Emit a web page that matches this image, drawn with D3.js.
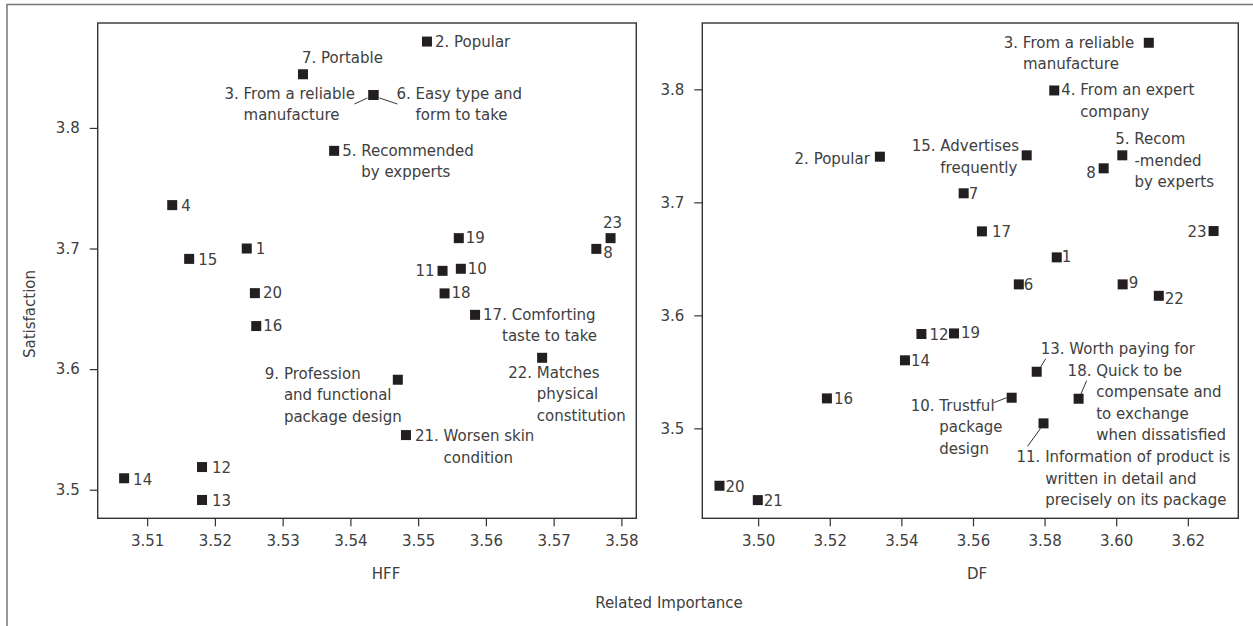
<!DOCTYPE html>
<html>
<head>
<meta charset="utf-8">
<script src="https://cdn.jsdelivr.net/npm/d3@7"></script>
<style>
  html, body { margin: 0; padding: 0; background: #fff; }
  svg { display: block; font-family: "DejaVu Sans", "Noto Sans", sans-serif; }
  .tick text { fill: #404040; font-size: 15px; font-family: "DejaVu Sans", "Noto Sans", sans-serif; }
  .tick line { stroke: #333; stroke-width: 1.2; }
  .lbl { fill: #404040; font-size: 15px; }
  .axis-title { fill: #404040; font-size: 15px; }
</style>
</head>
<body>
<svg id="chart" width="1253" height="626"></svg>
<script>
// item numbers (1..23)
const itemIds = [1, 2, 3, 4, 5, 6, 7, 8, 9, 10, 11, 12, 13, 14, 15, 16, 17, 18, 19, 20, 21, 22, 23];

// HFF panel : related importance / satisfaction
const hffImportance = [3.5247, 3.5513, 3.5434, 3.5137, 3.5376, 3.5434, 3.5330, 3.5763, 3.5470, 3.5563, 3.5536, 3.5181,
                       3.5181, 3.5066, 3.5162, 3.5261, 3.5584, 3.5539, 3.5560, 3.5259, 3.5482, 3.5683, 3.5784];
const hffSatisfaction = [3.700, 3.8716, 3.8273, 3.736, 3.781, 3.8273, 3.8445, 3.6997, 3.5912, 3.6832, 3.6815, 3.5188,
                         3.4915, 3.5095, 3.6914, 3.6357, 3.645, 3.6628, 3.7086, 3.663, 3.5453, 3.6094, 3.7086];

// DF panel
const dfImportance = [3.5834, 3.5340, 3.6091, 3.5827, 3.6017, 3.5728, 3.5574, 3.5965, 3.6018, 3.5708, 3.5797, 3.5456,
                      3.5778, 3.5410, 3.5750, 3.5192, 3.5625, 3.5895, 3.5547, 3.4892, 3.4999, 3.6119, 3.6272];
const dfSatisfaction = [3.6513, 3.7404, 3.8412, 3.799, 3.7416, 3.6274, 3.708, 3.7301, 3.6274, 3.5271, 3.5044, 3.5835,
                        3.5501, 3.5602, 3.7416, 3.5265, 3.6743, 3.5262, 3.584, 3.4492, 3.4365, 3.6173, 3.6746];

// tick labels
const hffXTicks = [3.51, 3.52, 3.53, 3.54, 3.55, 3.56, 3.57, 3.58];
const dfXTicks = [3.50, 3.52, 3.54, 3.56, 3.58, 3.60, 3.62];
const satTicks = [3.5, 3.6, 3.7, 3.8];

// label texts per panel
const hffLabelText = {
  1: ["1"], 2: ["2. Popular"], 3: ["3. From a reliable", "manufacture"], 4: ["4"],
  5: ["5. Recommended", "by expperts"], 6: ["6. Easy type and", "form to take"], 7: ["7. Portable"], 8: ["8"],
  9: ["9. Profession", "and functional", "package design"], 10: ["10"], 11: ["11"], 12: ["12"], 13: ["13"],
  14: ["14"], 15: ["15"], 16: ["16"], 17: ["17. Comforting", "taste to take"], 18: ["18"], 19: ["19"], 20: ["20"],
  21: ["21. Worsen skin", "condition"], 22: ["22. Matches", "physical", "constitution"], 23: ["23"]
};
const dfLabelText = {
  1: ["1"], 2: ["2. Popular"], 3: ["3. From a reliable", "manufacture"], 4: ["4. From an expert", "company"],
  5: ["5. Recom", "-mended", "by experts"], 6: ["6"], 7: ["7"], 8: ["8"], 9: ["9"],
  10: ["10. Trustful", "package", "design"],
  11: ["11. Information of product is", "written in detail and", "precisely on its package"],
  12: ["12"], 13: ["13. Worth paying for"], 14: ["14"], 15: ["15. Advertises", "frequently"], 16: ["16"], 17: ["17"],
  18: ["18. Quick to be", "compensate and", "to exchange", "when dissatisfied"],
  19: ["19"], 20: ["20"], 21: ["21"], 22: ["22"], 23: ["23"]
};

// label placement (pixels relative to the marker), kept apart from the data
const hffPlace = {
  1: [9, 5], 2: [8, 5], 3: [-149, 4], 4: [9, 6], 5: [8, 5], 6: [23, 4], 7: [-1, -11], 8: [7, 9],
  9: [-133, -1], 10: [7, 5], 11: [-8, 5, "end"], 12: [10, 6], 13: [10, 6], 14: [9, 7], 15: [9, 6], 16: [7, 5],
  17: [8, 5, "start", 19], 18: [7, 5], 19: [7, 5], 20: [8, 5], 21: [9, 6], 22: [-34, 20], 23: [2, -10, "middle"]
};
const dfPlace = {
  1: [5, 5], 2: [-10, 7, "end"], 3: [-145, 5], 4: [7, 5], 5: [-7, -11], 6: [5, 6], 7: [5, 6], 8: [-8, 10, "end"],
  9: [6, 4], 10: [-101, 13], 11: [-27, 39], 12: [8, 6], 13: [4, -18], 14: [6, 6], 15: [-115, -4], 16: [7, 6],
  17: [10, 6], 18: [-11, -23], 19: [7, 5], 20: [6, 6], 21: [6, 6], 22: [6, 8], 23: [-7, 6, "end"]
};
// leader lines [x1, y1, x2, y2] relative to the marker
const hffLeaders = { 3: [-6, 3, -19, 9], 6: [6, 3, 24, 9] };
const dfLeaders = { 10: [-18, 5, -5, 0], 11: [-16, 23, -3, 5], 13: [9, -13, 4, -5], 18: [8, -18, 2, -4] };

const LINE_H = 21.5;
const MARK = 10;
const INK = "#231f20";

const svg = d3.select("#chart");

// outer frame (top + left only)
svg.append("path").attr("d", "M7,626 L7,4.5 L1253,4.5")
  .attr("fill", "none").attr("stroke", "#777").attr("stroke-width", 1.5);

function drawPanel(opt) {
  const x = d3.scaleLinear().domain(opt.xDomain).range([opt.left, opt.right]);
  const y = d3.scaleLinear().domain(opt.yDomain).range([opt.bottom, opt.top]);
  const g = svg.append("g");

  // axes (ticks only, box drawn separately)
  const xa = g.append("g").attr("transform", `translate(0,${opt.bottom})`)
    .call(d3.axisBottom(x).tickValues(opt.xTicks).tickFormat(d3.format(".2f")).tickSize(8).tickSizeOuter(0).tickPadding(9));
  const ya = g.append("g").attr("transform", `translate(${opt.left},0)`)
    .call(d3.axisLeft(y).tickValues(satTicks).tickFormat(d3.format(".1f")).tickSize(8).tickSizeOuter(0).tickPadding(10));
  xa.select(".domain").remove();
  ya.select(".domain").remove();

  g.append("rect").attr("x", opt.left).attr("y", opt.top)
    .attr("width", opt.right - opt.left).attr("height", opt.bottom - opt.top)
    .attr("fill", "none").attr("stroke", "#333").attr("stroke-width", 1.4);

  const pts = itemIds.map((id, i) => ({ id, vx: opt.xs[i], vy: opt.ys[i] }));

  // leader lines
  pts.forEach(p => {
    const l = opt.leaders[p.id];
    if (!l) return;
    const px = x(p.vx), py = y(p.vy);
    g.append("line").attr("x1", px + l[0]).attr("y1", py + l[1]).attr("x2", px + l[2]).attr("y2", py + l[3])
      .attr("stroke", "#333").attr("stroke-width", 1);
  });

  // markers
  g.selectAll("rect.pt").data(pts).join("rect").attr("class", "pt")
    .attr("x", d => x(d.vx) - MARK / 2).attr("y", d => y(d.vy) - MARK / 2)
    .attr("width", MARK).attr("height", MARK).attr("fill", INK);

  // labels
  pts.forEach(p => {
    const lines = opt.texts[p.id];
    const pl = opt.place[p.id];
    const anchor = pl[2] || "start";
    const t = g.append("text").attr("class", "lbl")
      .attr("x", x(p.vx) + pl[0]).attr("y", y(p.vy) + pl[1]).attr("text-anchor", anchor);
    const first = t.append("tspan").attr("x", x(p.vx) + pl[0]).text(lines[0]);
    if (lines.length < 2) return;
    // hanging indent: following lines line up after the "N. " prefix
    let indent = pl[3];
    if (indent === undefined) {
      const m = lines[0].match(/^\S+\s/);
      indent = m ? first.node().getSubStringLength(0, m[0].length) : 0;
    }
    lines.slice(1).forEach(s => {
      t.append("tspan").attr("x", x(p.vx) + pl[0] + indent).attr("dy", LINE_H).text(s);
    });
  });

  g.append("text").attr("class", "axis-title").attr("x", opt.titleX).attr("y", 579)
    .attr("text-anchor", "middle").text(opt.title);
}

drawPanel({
  left: 97.7, right: 636.3, top: 23, bottom: 518.3,
  xDomain: [3.5027, 3.5822], yDomain: [3.4763, 3.887],
  xTicks: hffXTicks, xs: hffImportance, ys: hffSatisfaction,
  texts: hffLabelText, place: hffPlace, leaders: hffLeaders,
  title: "HFF", titleX: 386
});

drawPanel({
  left: 702.3, right: 1238.3, top: 23, bottom: 518.3,
  xDomain: [3.4844, 3.6341], yDomain: [3.4204, 3.8587],
  xTicks: dfXTicks, xs: dfImportance, ys: dfSatisfaction,
  texts: dfLabelText, place: dfPlace, leaders: dfLeaders,
  title: "DF", titleX: 977
});

// shared titles
svg.append("text").attr("class", "axis-title").attr("transform", "translate(35,314) rotate(-90)")
  .attr("text-anchor", "middle").text("Satisfaction");
svg.append("text").attr("class", "axis-title").attr("x", 669).attr("y", 608)
  .attr("text-anchor", "middle").text("Related Importance");
</script>
</body>
</html>
